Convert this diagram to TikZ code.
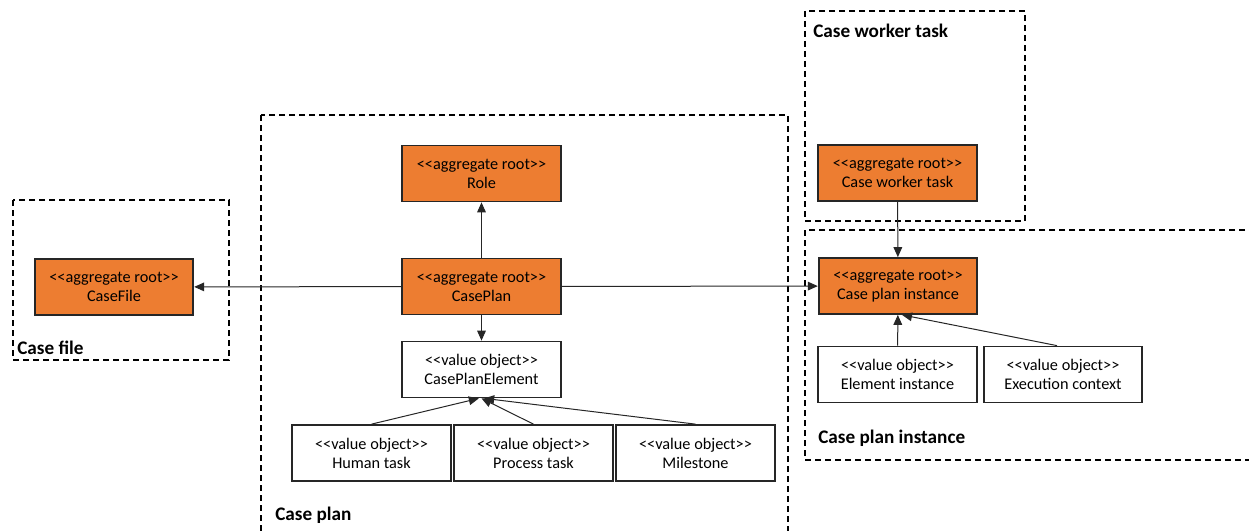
\documentclass[tikz,border=0pt]{standalone}
\usepackage{fontspec}
\setmainfont{Carlito}
\usetikzlibrary{arrows.meta}
\definecolor{boxorange}{HTML}{ED7D31}
\newcommand\stereotype[1]{<\kern0pt<#1>\kern0pt>}
\tikzset{%
  % Styles of the boxes and contexts:
    base/.style = {rectangle, draw=black!85, line width=1.3pt,
                   minimum width=119pt, minimum height=42pt, inner sep=1pt,
                   align=center, font=\fontsize{12.2}{14.3}\selectfont},
    aggroot/.style = {base, fill=boxorange},
    valobj/.style = {base, fill=white},
    bounded/.style = {draw=black, line width=1pt, dash pattern=on 4.5pt off 3pt},
    ctxlabel/.style = {anchor=west, inner sep=0pt,
                       font=\fontsize{14.4}{16}\selectfont\bfseries},
    link/.style = {draw=black!85, line width=0.75pt,
                   -{Triangle[length=7.5pt,width=6.5pt]}}%
}

\begin{document}
\begin{tikzpicture}[x=0.75pt,y=-0.75pt]
\clip (0,0) rectangle (1249,531);

% bounded contexts
\draw[bounded] (13,200) rectangle (229,360);
\draw[bounded] (261,115) rectangle (788,560);
\draw[bounded] (805,11) rectangle (1025,221);
\draw[bounded] (805,230) rectangle (1280,460);

\node[ctxlabel] (lblfile) at (17,348) {Case file};
\node[ctxlabel] (lblplan) at (275,515) {Case plan};
\node[ctxlabel] (lblworker) at (813,31) {Case worker task};
\node[ctxlabel] (lblinst) at (818,438) {Case plan instance};

% aggregate roots
\node[aggroot] (casefile) at (114,287) {\stereotype{aggregate root}\\CaseFile};
\node[aggroot] (role) at (481.5,173.5) {\stereotype{aggregate root}\\Role};
\node[aggroot] (caseplan) at (481.5,286.5) {\stereotype{aggregate root}\\CasePlan};
\node[aggroot] (workertask) at (897.5,173) {\stereotype{aggregate root}\\Case worker task};
\node[aggroot] (planinst) at (898,286) {\stereotype{aggregate root}\\Case plan instance};

% value objects
\node[valobj] (element) at (481.5,369.5) {\stereotype{value object}\\CasePlanElement};
\node[valobj] (humantask) at (371.5,453) {\stereotype{value object}\\Human task};
\node[valobj] (processtask) at (533.5,453) {\stereotype{value object}\\Process task};
\node[valobj] (milestone) at (695.5,453) {\stereotype{value object}\\Milestone};
\node[valobj] (eleminst) at (897.5,374.5) {\stereotype{value object}\\Element instance};
\node[valobj] (execctx) at (1063,374.5) {\stereotype{value object}\\Execution context};

% references
\draw[link] (caseplan) -- (casefile);
\draw[link] (caseplan) -- (planinst);
\draw[link] (caseplan) -- (role);
\draw[link] (caseplan) -- (element);
\draw[link] (humantask.north) -- ([xshift=-2pt]element.south);
\draw[link] (processtask.north) -- (element.south);
\draw[link] (milestone.north) -- ([xshift=2pt]element.south);
\draw[link] (workertask) -- (planinst);
\draw[link] (eleminst) -- (planinst);
\draw[link] ([xshift=-4.5pt]execctx.north) -- ([xshift=3pt]planinst.south);

\end{tikzpicture}
\end{document}
